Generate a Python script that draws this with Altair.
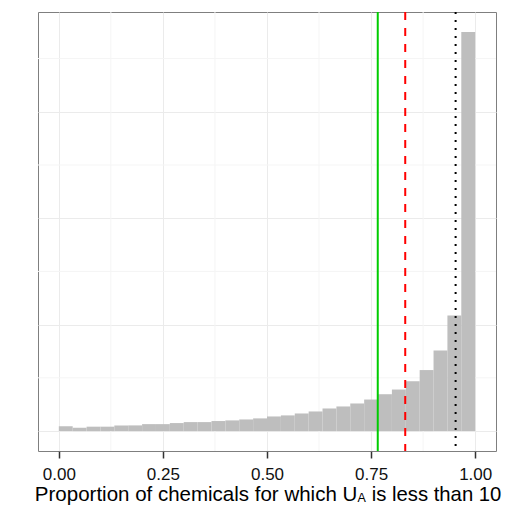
import altair as alt
import pandas as pd
import numpy as np

# ---- data ----
n_bins = 30
bin_lo = [i / n_bins for i in range(n_bins)]
bin_hi = [(i + 1) / n_bins for i in range(n_bins)]
counts = [4.4, 3.1, 4.1, 4.1, 5.3, 5.3, 6.5, 6.5, 7.5, 8.4,
          8.4, 9.4, 10.0, 10.9, 11.9, 13.7, 14.7, 16.5, 18.4, 21.2,
          23.1, 25.9, 29.6, 34.6, 39.0, 46.8, 57.3, 75.8, 108.5, 375.0]

line_values = [0.766, 0.832, 0.953]
line_names = ["green", "red", "black"]

x_ticks = [0, 0.25, 0.5, 0.75, 1.0]
x_minor = [0.125, 0.375, 0.625, 0.875]
y_major = [0, 100, 200, 300]
y_minor = [50, 150, 250, 350]

title_parts = ["Proportion of chemicals for which U", "A", "is less than 10"]

# ---- layout ----
W, H = 458, 439
ymax = max(counts)
xdom = [-0.05, 1.05]
ydom = [-0.05 * ymax, 1.05 * ymax]

xscale = alt.Scale(domain=xdom, nice=False, zero=False)
yscale = alt.Scale(domain=ydom, nice=False, zero=False)

hist = pd.DataFrame({"lo": bin_lo, "hi": bin_hi, "n": counts})

x_axis = alt.Axis(values=x_ticks, format=".2f", title=None, domain=False,
                  grid=True, gridColor="#EBEBEB", gridWidth=1,
                  ticks=True, tickColor="#333333", tickSize=7, tickWidth=1.5,
                  labelFont="Liberation Sans", labelFontSize=17, labelColor="#111111",
                  labelBaseline="alphabetic", labelPadding=21, labelFlush=False)
y_axis = alt.Axis(values=y_major, title=None, domain=False, ticks=False,
                  labels=False, grid=True, gridColor="#EBEBEB", gridWidth=1)

minor_x = alt.Chart(pd.DataFrame({"v": x_minor})).mark_rule(
    color="#F5F5F5", strokeWidth=1).encode(
    x=alt.X("v:Q", scale=xscale, axis=x_axis))
minor_y = alt.Chart(pd.DataFrame({"v": y_minor})).mark_rule(
    color="#F5F5F5", strokeWidth=1).encode(
    y=alt.Y("v:Q", scale=yscale, axis=y_axis))

bars = alt.Chart(hist).mark_bar(color="#BEBEBE", strokeWidth=0).encode(
    x=alt.X("lo:Q", scale=xscale, axis=x_axis),
    x2="hi:Q",
    y=alt.Y("n:Q", scale=yscale, axis=y_axis),
    y2=alt.datum(0),
)

def vline(i, color, dash, width):
    df = pd.DataFrame({"v": [line_values[i]], "name": [line_names[i]]})
    kw = dict(color=color, strokeWidth=width)
    if dash:
        kw["strokeDash"] = dash
    return alt.Chart(df).mark_rule(**kw).encode(x=alt.X("v:Q", scale=xscale, axis=x_axis))

green = vline(0, "#00CC00", None, 2)
red = vline(1, "#FF0000", [8, 8], 2)
black = vline(2, "#000000", [2, 6], 2)

def text_layer(i, xpix, ypix, align, size):
    df = pd.DataFrame({"t": [title_parts[i]]})
    return alt.Chart(df).mark_text(align=align, baseline="alphabetic",
                                   font="Liberation Sans", fontSize=size,
                                   color="black").encode(
        text="t:N", x=alt.value(xpix), y=alt.value(ypix))

t1 = text_layer(0, 319.3, 488.7, "right", 20.5)
t2 = text_layer(1, 319.6, 490.0, "left", 12.5)
t3 = text_layer(2, 333.7, 488.7, "left", 20.3)

chart = alt.layer(minor_x, minor_y, bars, green, red, black, t1, t2, t3).properties(
    width=W, height=H,
    padding={"left": 38, "top": 12, "right": 33, "bottom": 55},
    autosize=alt.AutoSizeParams(type="none"),
    background="white",
).configure_view(stroke="#7F7F7F", strokeWidth=1)

chart.save("out.html", embed_options={"renderer": "svg", "actions": False})
